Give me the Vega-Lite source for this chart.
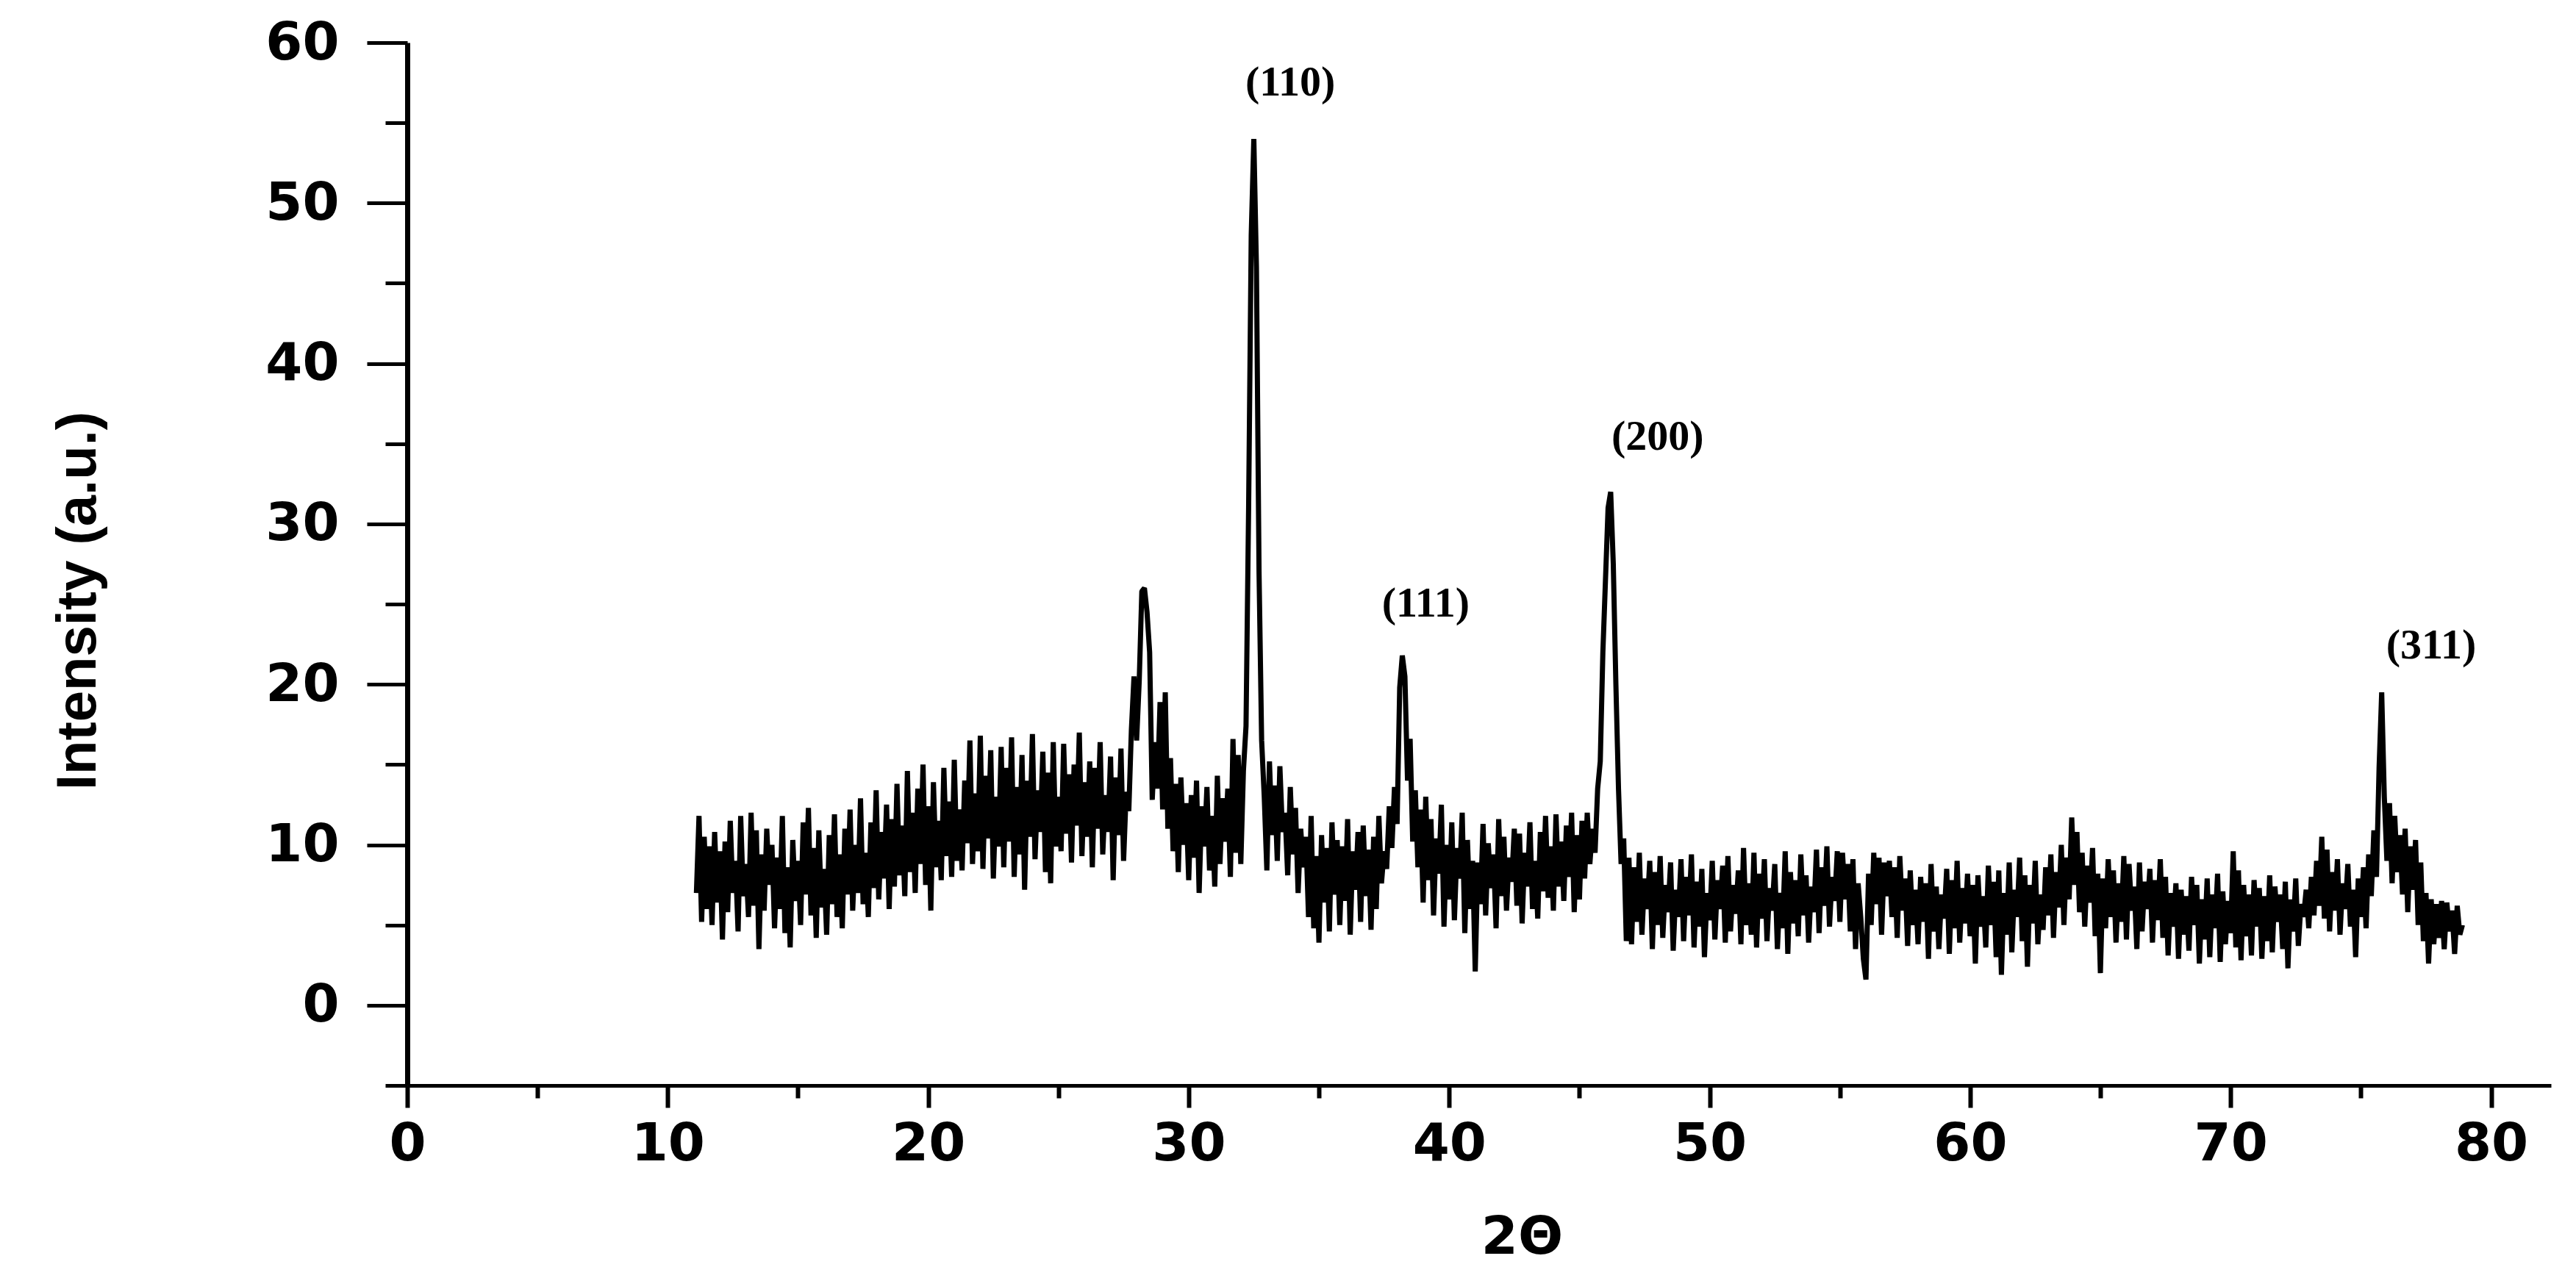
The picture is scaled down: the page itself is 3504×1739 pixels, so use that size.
{
  "$schema": "https://vega.github.io/schema/vega-lite/v6.json",
  "width": 2916,
  "height": 1419,
  "autosize": {"type": "none"},
  "padding": {"left": 554, "top": 58, "right": 34, "bottom": 262},
  "background": "white",
  "config": {"view": {"stroke": null}, "axis": {"grid": false, "domainColor": "black", "tickColor": "black", "labelColor": "black", "titleColor": "black"}},
  "resolve": {"axis": {"x": "independent", "y": "independent"}},
  "layer": [
    {
      "data": {"values": [
{"t":11.1,"i":7.0},{"t":11.2,"i":11.8},{"t":11.3,"i":5.2},{"t":11.4,"i":10.5},{"t":11.5,"i":6.0},{"t":11.6,"i":9.9},{"t":11.7,"i":5.0},{"t":11.8,"i":10.8},{"t":11.9,"i":6.4},
{"t":12.0,"i":9.6},{"t":12.1,"i":4.1},{"t":12.2,"i":10.2},{"t":12.3,"i":5.8},{"t":12.4,"i":11.5},{"t":12.5,"i":7.0},{"t":12.6,"i":9.0},{"t":12.7,"i":4.6},{"t":12.8,"i":11.8},{"t":12.9,"i":6.8},
{"t":13.0,"i":8.8},{"t":13.1,"i":5.5},{"t":13.2,"i":12.0},{"t":13.3,"i":6.2},{"t":13.4,"i":10.9},{"t":13.5,"i":3.5},{"t":13.6,"i":9.4},{"t":13.7,"i":5.9},{"t":13.8,"i":11.0},{"t":13.9,"i":7.5},
{"t":14.0,"i":10.0},{"t":14.1,"i":4.8},{"t":14.2,"i":9.2},{"t":14.3,"i":6.0},{"t":14.4,"i":11.8},{"t":14.5,"i":4.5},{"t":14.6,"i":8.6},{"t":14.7,"i":3.6},{"t":14.8,"i":10.3},{"t":14.9,"i":6.5},
{"t":15.0,"i":9.0},{"t":15.1,"i":5.0},{"t":15.2,"i":11.4},{"t":15.3,"i":6.9},{"t":15.4,"i":12.3},{"t":15.5,"i":5.6},{"t":15.6,"i":9.8},{"t":15.7,"i":4.2},{"t":15.8,"i":10.9},{"t":15.9,"i":6.1},
{"t":16.0,"i":8.5},{"t":16.1,"i":4.4},{"t":16.2,"i":10.6},{"t":16.3,"i":6.3},{"t":16.4,"i":11.9},{"t":16.5,"i":5.5},{"t":16.6,"i":9.4},{"t":16.7,"i":4.8},{"t":16.8,"i":11.0},{"t":16.9,"i":6.9},
{"t":17.0,"i":12.2},{"t":17.1,"i":5.9},{"t":17.2,"i":10.0},{"t":17.3,"i":7.0},{"t":17.4,"i":12.9},{"t":17.5,"i":6.3},{"t":17.6,"i":9.5},{"t":17.7,"i":5.5},{"t":17.8,"i":11.4},{"t":17.9,"i":7.3},
{"t":18.0,"i":13.4},{"t":18.1,"i":6.6},{"t":18.2,"i":10.8},{"t":18.3,"i":7.9},{"t":18.4,"i":12.5},{"t":18.5,"i":6.0},{"t":18.6,"i":11.6},{"t":18.7,"i":7.4},{"t":18.8,"i":13.8},{"t":18.9,"i":8.1},
{"t":19.0,"i":11.2},{"t":19.1,"i":6.8},{"t":19.2,"i":14.6},{"t":19.3,"i":8.3},{"t":19.4,"i":12.0},{"t":19.5,"i":7.0},{"t":19.6,"i":13.5},{"t":19.7,"i":8.8},{"t":19.8,"i":15.0},{"t":19.9,"i":7.5},
{"t":20.0,"i":12.4},{"t":20.1,"i":5.9},{"t":20.2,"i":13.9},{"t":20.3,"i":8.6},{"t":20.4,"i":11.5},{"t":20.5,"i":7.8},{"t":20.6,"i":14.8},{"t":20.7,"i":9.3},{"t":20.8,"i":12.7},{"t":20.9,"i":8.0},
{"t":21.0,"i":15.3},{"t":21.1,"i":9.0},{"t":21.2,"i":12.2},{"t":21.3,"i":8.4},{"t":21.4,"i":14.0},{"t":21.5,"i":10.1},{"t":21.6,"i":16.5},{"t":21.7,"i":8.8},{"t":21.8,"i":13.2},{"t":21.9,"i":9.6},
{"t":22.0,"i":16.8},{"t":22.1,"i":8.5},{"t":22.2,"i":14.3},{"t":22.3,"i":10.4},{"t":22.4,"i":15.9},{"t":22.5,"i":7.9},{"t":22.6,"i":13.0},{"t":22.7,"i":9.9},{"t":22.8,"i":16.1},{"t":22.9,"i":8.6},
{"t":23.0,"i":14.8},{"t":23.1,"i":10.2},{"t":23.2,"i":16.7},{"t":23.3,"i":8.0},{"t":23.4,"i":13.6},{"t":23.5,"i":9.4},{"t":23.6,"i":15.6},{"t":23.7,"i":7.2},{"t":23.8,"i":14.0},{"t":23.9,"i":10.5},
{"t":24.0,"i":16.9},{"t":24.1,"i":9.1},{"t":24.2,"i":13.4},{"t":24.3,"i":10.8},{"t":24.4,"i":15.8},{"t":24.5,"i":8.3},{"t":24.6,"i":14.5},{"t":24.7,"i":7.6},{"t":24.8,"i":16.4},{"t":24.9,"i":9.9},
{"t":25.0,"i":13.0},{"t":25.1,"i":9.6},{"t":25.2,"i":16.3},{"t":25.3,"i":10.7},{"t":25.4,"i":14.4},{"t":25.5,"i":8.9},{"t":25.6,"i":15.0},{"t":25.7,"i":11.2},{"t":25.8,"i":17.0},{"t":25.9,"i":9.3},
{"t":26.0,"i":13.9},{"t":26.1,"i":10.5},{"t":26.2,"i":15.2},{"t":26.3,"i":8.6},{"t":26.4,"i":14.8},{"t":26.5,"i":11.0},{"t":26.6,"i":16.4},{"t":26.7,"i":9.4},{"t":26.8,"i":13.1},{"t":26.9,"i":10.8},
{"t":27.0,"i":15.5},{"t":27.1,"i":7.8},{"t":27.2,"i":14.2},{"t":27.3,"i":10.6},{"t":27.4,"i":16.0},{"t":27.5,"i":9.0},{"t":27.6,"i":13.3},{"t":27.7,"i":12.1},{"t":27.8,"i":17.2},{"t":27.9,"i":20.5},
{"t":28.0,"i":16.5},{"t":28.1,"i":20.2},{"t":28.2,"i":25.8},{"t":28.3,"i":26.0},{"t":28.4,"i":24.5},{"t":28.5,"i":22.0},{"t":28.6,"i":12.8},{"t":28.7,"i":16.4},{"t":28.8,"i":13.5},{"t":28.9,"i":18.9},
{"t":29.0,"i":12.2},{"t":29.1,"i":19.5},{"t":29.2,"i":11.0},{"t":29.3,"i":15.4},{"t":29.4,"i":9.6},{"t":29.5,"i":13.8},{"t":29.6,"i":8.3},{"t":29.7,"i":14.2},{"t":29.8,"i":10.0},{"t":29.9,"i":12.6},
{"t":30.0,"i":7.8},{"t":30.1,"i":13.1},{"t":30.2,"i":9.2},{"t":30.3,"i":14.0},{"t":30.4,"i":7.0},{"t":30.5,"i":12.4},{"t":30.6,"i":9.9},{"t":30.7,"i":13.6},{"t":30.8,"i":8.4},{"t":30.9,"i":11.8},
{"t":31.0,"i":7.4},{"t":31.1,"i":14.3},{"t":31.2,"i":8.8},{"t":31.3,"i":12.9},{"t":31.4,"i":10.2},{"t":31.5,"i":13.5},{"t":31.6,"i":8.0},{"t":31.7,"i":16.6},{"t":31.8,"i":9.5},{"t":31.9,"i":15.6},
{"t":32.0,"i":8.8},{"t":32.1,"i":14.6},{"t":32.2,"i":17.4},{"t":32.3,"i":31.0},{"t":32.4,"i":48.0},{"t":32.5,"i":54.0},{"t":32.6,"i":46.0},{"t":32.7,"i":27.0},{"t":32.8,"i":16.5},{"t":32.9,"i":13.0},
{"t":33.0,"i":8.4},{"t":33.1,"i":15.2},{"t":33.2,"i":10.6},{"t":33.3,"i":13.7},{"t":33.4,"i":9.0},{"t":33.5,"i":14.9},{"t":33.6,"i":10.8},{"t":33.7,"i":12.0},{"t":33.8,"i":8.1},{"t":33.9,"i":13.6},
{"t":34.0,"i":9.4},{"t":34.1,"i":12.3},{"t":34.2,"i":7.0},{"t":34.3,"i":11.0},{"t":34.4,"i":8.6},{"t":34.5,"i":10.5},{"t":34.6,"i":5.5},{"t":34.7,"i":11.8},{"t":34.8,"i":4.8},{"t":34.9,"i":9.3},
{"t":35.0,"i":3.9},{"t":35.1,"i":10.6},{"t":35.2,"i":6.4},{"t":35.3,"i":9.8},{"t":35.4,"i":4.6},{"t":35.5,"i":11.4},{"t":35.6,"i":6.9},{"t":35.7,"i":10.3},{"t":35.8,"i":5.0},{"t":35.9,"i":9.9},
{"t":36.0,"i":6.5},{"t":36.1,"i":11.6},{"t":36.2,"i":4.4},{"t":36.3,"i":9.6},{"t":36.4,"i":7.2},{"t":36.5,"i":10.8},{"t":36.6,"i":5.2},{"t":36.7,"i":11.2},{"t":36.8,"i":6.8},{"t":36.9,"i":9.7},
{"t":37.0,"i":4.7},{"t":37.1,"i":10.5},{"t":37.2,"i":6.0},{"t":37.3,"i":11.8},{"t":37.4,"i":7.6},{"t":37.5,"i":9.6},{"t":37.6,"i":8.5},{"t":37.7,"i":12.4},{"t":37.8,"i":9.8},{"t":37.9,"i":13.6},
{"t":38.0,"i":11.3},{"t":38.1,"i":19.8},{"t":38.2,"i":21.8},{"t":38.3,"i":20.5},{"t":38.4,"i":14.0},{"t":38.5,"i":16.6},{"t":38.6,"i":10.2},{"t":38.7,"i":13.4},{"t":38.8,"i":8.6},{"t":38.9,"i":12.2},
{"t":39.0,"i":6.4},{"t":39.1,"i":13.0},{"t":39.2,"i":7.8},{"t":39.3,"i":11.6},{"t":39.4,"i":5.6},{"t":39.5,"i":10.4},{"t":39.6,"i":8.2},{"t":39.7,"i":12.5},{"t":39.8,"i":4.9},{"t":39.9,"i":10.0},
{"t":40.0,"i":6.6},{"t":40.1,"i":11.4},{"t":40.2,"i":5.3},{"t":40.3,"i":9.8},{"t":40.4,"i":7.9},{"t":40.5,"i":12.0},{"t":40.6,"i":4.5},{"t":40.7,"i":10.3},{"t":40.8,"i":6.0},{"t":40.9,"i":9.0},
{"t":41.0,"i":2.1},{"t":41.1,"i":8.9},{"t":41.2,"i":6.3},{"t":41.3,"i":11.3},{"t":41.4,"i":5.6},{"t":41.5,"i":10.1},{"t":41.6,"i":7.3},{"t":41.7,"i":9.4},{"t":41.8,"i":4.8},{"t":41.9,"i":11.6},
{"t":42.0,"i":6.8},{"t":42.1,"i":10.5},{"t":42.2,"i":5.9},{"t":42.3,"i":9.2},{"t":42.4,"i":7.7},{"t":42.5,"i":11.0},{"t":42.6,"i":6.2},{"t":42.7,"i":10.7},{"t":42.8,"i":5.1},{"t":42.9,"i":9.5},
{"t":43.0,"i":7.4},{"t":43.1,"i":11.4},{"t":43.2,"i":6.0},{"t":43.3,"i":9.0},{"t":43.4,"i":5.4},{"t":43.5,"i":10.8},{"t":43.6,"i":7.1},{"t":43.7,"i":11.8},{"t":43.8,"i":6.7},{"t":43.9,"i":9.9},
{"t":44.0,"i":5.9},{"t":44.1,"i":11.9},{"t":44.2,"i":7.4},{"t":44.3,"i":10.2},{"t":44.4,"i":6.5},{"t":44.5,"i":11.2},{"t":44.6,"i":8.0},{"t":44.7,"i":12.0},{"t":44.8,"i":5.8},{"t":44.9,"i":10.6},
{"t":45.0,"i":6.6},{"t":45.1,"i":11.5},{"t":45.2,"i":7.9},{"t":45.3,"i":12.0},{"t":45.4,"i":8.8},{"t":45.5,"i":11.0},{"t":45.6,"i":9.5},{"t":45.7,"i":13.5},{"t":45.8,"i":15.2},{"t":45.9,"i":22.0},
{"t":46.0,"i":26.5},{"t":46.1,"i":31.0},{"t":46.2,"i":32.0},{"t":46.3,"i":27.5},{"t":46.4,"i":20.0},{"t":46.5,"i":13.5},{"t":46.6,"i":8.8},{"t":46.7,"i":10.4},{"t":46.8,"i":4.0},{"t":46.9,"i":9.2},
{"t":47.0,"i":3.8},{"t":47.1,"i":8.6},{"t":47.2,"i":5.2},{"t":47.3,"i":9.5},{"t":47.4,"i":4.4},{"t":47.5,"i":7.9},{"t":47.6,"i":6.0},{"t":47.7,"i":9.0},{"t":47.8,"i":3.5},{"t":47.9,"i":8.3},
{"t":48.0,"i":5.0},{"t":48.1,"i":9.3},{"t":48.2,"i":4.2},{"t":48.3,"i":7.5},{"t":48.4,"i":5.8},{"t":48.5,"i":8.9},{"t":48.6,"i":3.4},{"t":48.7,"i":7.2},{"t":48.8,"i":5.5},{"t":48.9,"i":9.1},
{"t":49.0,"i":4.0},{"t":49.1,"i":8.0},{"t":49.2,"i":5.6},{"t":49.3,"i":9.4},{"t":49.4,"i":3.6},{"t":49.5,"i":7.7},{"t":49.6,"i":4.9},{"t":49.7,"i":8.5},{"t":49.8,"i":3.0},{"t":49.9,"i":7.0},
{"t":50.0,"i":5.3},{"t":50.1,"i":9.0},{"t":50.2,"i":4.1},{"t":50.3,"i":7.8},{"t":50.4,"i":6.0},{"t":50.5,"i":8.7},{"t":50.6,"i":3.9},{"t":50.7,"i":9.3},{"t":50.8,"i":4.6},{"t":50.9,"i":7.5},
{"t":51.0,"i":5.7},{"t":51.1,"i":8.4},{"t":51.2,"i":3.8},{"t":51.3,"i":9.8},{"t":51.4,"i":5.0},{"t":51.5,"i":7.6},{"t":51.6,"i":4.4},{"t":51.7,"i":9.5},{"t":51.8,"i":3.6},{"t":51.9,"i":8.2},
{"t":52.0,"i":5.4},{"t":52.1,"i":9.1},{"t":52.2,"i":4.0},{"t":52.3,"i":7.3},{"t":52.4,"i":5.9},{"t":52.5,"i":8.8},{"t":52.6,"i":3.5},{"t":52.7,"i":7.0},{"t":52.8,"i":4.8},{"t":52.9,"i":9.6},
{"t":53.0,"i":3.2},{"t":53.1,"i":8.3},{"t":53.2,"i":5.1},{"t":53.3,"i":7.8},{"t":53.4,"i":4.3},{"t":53.5,"i":9.4},{"t":53.6,"i":5.6},{"t":53.7,"i":8.1},{"t":53.8,"i":3.9},{"t":53.9,"i":7.4},
{"t":54.0,"i":5.8},{"t":54.1,"i":9.7},{"t":54.2,"i":4.5},{"t":54.3,"i":8.6},{"t":54.4,"i":6.2},{"t":54.5,"i":9.9},{"t":54.6,"i":4.9},{"t":54.7,"i":8.0},{"t":54.8,"i":6.5},{"t":54.9,"i":9.6},
{"t":55.0,"i":5.2},{"t":55.1,"i":9.5},{"t":55.2,"i":6.6},{"t":55.3,"i":8.8},{"t":55.4,"i":4.6},{"t":55.5,"i":9.1},{"t":55.6,"i":3.5},{"t":55.7,"i":7.6},{"t":55.8,"i":5.5},{"t":55.9,"i":2.9},
{"t":56.0,"i":1.6},{"t":56.1,"i":8.2},{"t":56.2,"i":5.0},{"t":56.3,"i":9.5},{"t":56.4,"i":6.3},{"t":56.5,"i":9.2},{"t":56.6,"i":4.4},{"t":56.7,"i":8.9},{"t":56.8,"i":6.8},{"t":56.9,"i":9.0},
{"t":57.0,"i":5.5},{"t":57.1,"i":8.6},{"t":57.2,"i":4.2},{"t":57.3,"i":9.3},{"t":57.4,"i":5.9},{"t":57.5,"i":7.9},{"t":57.6,"i":3.7},{"t":57.7,"i":8.4},{"t":57.8,"i":5.0},{"t":57.9,"i":7.2},
{"t":58.0,"i":3.8},{"t":58.1,"i":8.0},{"t":58.2,"i":5.2},{"t":58.3,"i":7.6},{"t":58.4,"i":2.9},{"t":58.5,"i":8.8},{"t":58.6,"i":4.6},{"t":58.7,"i":7.4},{"t":58.8,"i":3.5},{"t":58.9,"i":6.9},
{"t":59.0,"i":5.4},{"t":59.1,"i":8.5},{"t":59.2,"i":3.2},{"t":59.3,"i":7.8},{"t":59.4,"i":4.8},{"t":59.5,"i":9.0},{"t":59.6,"i":3.9},{"t":59.7,"i":7.3},{"t":59.8,"i":5.1},{"t":59.9,"i":8.2},
{"t":60.0,"i":4.3},{"t":60.1,"i":7.5},{"t":60.2,"i":2.6},{"t":60.3,"i":8.1},{"t":60.4,"i":4.9},{"t":60.5,"i":6.8},{"t":60.6,"i":3.6},{"t":60.7,"i":8.7},{"t":60.8,"i":5.0},{"t":60.9,"i":7.7},
{"t":61.0,"i":3.0},{"t":61.1,"i":8.4},{"t":61.2,"i":1.9},{"t":61.3,"i":7.0},{"t":61.4,"i":4.4},{"t":61.5,"i":8.9},{"t":61.6,"i":3.3},{"t":61.7,"i":7.2},{"t":61.8,"i":5.5},{"t":61.9,"i":9.2},
{"t":62.0,"i":4.0},{"t":62.1,"i":8.1},{"t":62.2,"i":2.4},{"t":62.3,"i":7.5},{"t":62.4,"i":5.1},{"t":62.5,"i":9.0},{"t":62.6,"i":3.8},{"t":62.7,"i":6.9},{"t":62.8,"i":4.7},{"t":62.9,"i":8.6},
{"t":63.0,"i":5.6},{"t":63.1,"i":9.4},{"t":63.2,"i":4.2},{"t":63.3,"i":8.3},{"t":63.4,"i":6.1},{"t":63.5,"i":10.0},{"t":63.6,"i":5.0},{"t":63.7,"i":9.2},{"t":63.8,"i":6.6},{"t":63.9,"i":11.7},
{"t":64.0,"i":7.5},{"t":64.1,"i":10.8},{"t":64.2,"i":5.8},{"t":64.3,"i":9.5},{"t":64.4,"i":4.9},{"t":64.5,"i":8.7},{"t":64.6,"i":6.4},{"t":64.7,"i":9.8},{"t":64.8,"i":4.3},{"t":64.9,"i":8.2},
{"t":65.0,"i":2.0},{"t":65.1,"i":7.9},{"t":65.2,"i":4.8},{"t":65.3,"i":9.1},{"t":65.4,"i":5.5},{"t":65.5,"i":8.4},{"t":65.6,"i":3.9},{"t":65.7,"i":7.6},{"t":65.8,"i":5.2},{"t":65.9,"i":9.3},
{"t":66.0,"i":4.1},{"t":66.1,"i":8.8},{"t":66.2,"i":5.9},{"t":66.3,"i":7.4},{"t":66.4,"i":3.5},{"t":66.5,"i":8.9},{"t":66.6,"i":4.6},{"t":66.7,"i":7.7},{"t":66.8,"i":6.0},{"t":66.9,"i":8.5},
{"t":67.0,"i":3.9},{"t":67.1,"i":7.8},{"t":67.2,"i":5.3},{"t":67.3,"i":9.1},{"t":67.4,"i":4.2},{"t":67.5,"i":8.0},{"t":67.6,"i":3.1},{"t":67.7,"i":7.0},{"t":67.8,"i":4.9},{"t":67.9,"i":7.6},
{"t":68.0,"i":2.9},{"t":68.1,"i":7.2},{"t":68.2,"i":4.4},{"t":68.3,"i":6.8},{"t":68.4,"i":3.4},{"t":68.5,"i":8.0},{"t":68.6,"i":5.0},{"t":68.7,"i":7.5},{"t":68.8,"i":2.6},{"t":68.9,"i":6.6},
{"t":69.0,"i":4.1},{"t":69.1,"i":7.9},{"t":69.2,"i":3.0},{"t":69.3,"i":6.9},{"t":69.4,"i":4.8},{"t":69.5,"i":8.2},{"t":69.6,"i":2.7},{"t":69.7,"i":7.1},{"t":69.8,"i":3.8},{"t":69.9,"i":6.5},
{"t":70.0,"i":4.5},{"t":70.1,"i":9.6},{"t":70.2,"i":3.6},{"t":70.3,"i":8.4},{"t":70.4,"i":2.8},{"t":70.5,"i":7.5},{"t":70.6,"i":4.3},{"t":70.7,"i":6.9},{"t":70.8,"i":3.1},{"t":70.9,"i":7.8},
{"t":71.0,"i":4.9},{"t":71.1,"i":7.3},{"t":71.2,"i":2.9},{"t":71.3,"i":6.8},{"t":71.4,"i":4.0},{"t":71.5,"i":8.1},{"t":71.6,"i":3.3},{"t":71.7,"i":7.4},{"t":71.8,"i":5.2},{"t":71.9,"i":6.9},
{"t":72.0,"i":3.5},{"t":72.1,"i":7.7},{"t":72.2,"i":2.3},{"t":72.3,"i":6.6},{"t":72.4,"i":4.6},{"t":72.5,"i":7.9},{"t":72.6,"i":3.7},{"t":72.7,"i":6.3},{"t":72.8,"i":5.5},{"t":72.9,"i":7.2},
{"t":73.0,"i":4.8},{"t":73.1,"i":8.0},{"t":73.2,"i":5.6},{"t":73.3,"i":9.0},{"t":73.4,"i":6.2},{"t":73.5,"i":10.5},{"t":73.6,"i":5.4},{"t":73.7,"i":9.7},{"t":73.8,"i":4.6},{"t":73.9,"i":8.3},
{"t":74.0,"i":5.9},{"t":74.1,"i":9.1},{"t":74.2,"i":4.4},{"t":74.3,"i":7.6},{"t":74.4,"i":6.0},{"t":74.5,"i":8.8},{"t":74.6,"i":4.9},{"t":74.7,"i":7.2},{"t":74.8,"i":3.0},{"t":74.9,"i":7.9},
{"t":75.0,"i":5.5},{"t":75.1,"i":8.6},{"t":75.2,"i":4.8},{"t":75.3,"i":9.4},{"t":75.4,"i":6.8},{"t":75.5,"i":10.9},{"t":75.6,"i":8.0},{"t":75.7,"i":14.8},{"t":75.8,"i":19.5},{"t":75.9,"i":13.0},
{"t":76.0,"i":9.0},{"t":76.1,"i":12.6},{"t":76.2,"i":7.6},{"t":76.3,"i":11.8},{"t":76.4,"i":8.3},{"t":76.5,"i":10.6},{"t":76.6,"i":6.9},{"t":76.7,"i":11.0},{"t":76.8,"i":5.8},{"t":76.9,"i":9.9},
{"t":77.0,"i":7.2},{"t":77.1,"i":10.3},{"t":77.2,"i":5.0},{"t":77.3,"i":8.9},{"t":77.4,"i":4.0},{"t":77.5,"i":7.0},{"t":77.6,"i":2.6},{"t":77.7,"i":6.6},{"t":77.8,"i":3.8},{"t":77.9,"i":6.3},
{"t":78.0,"i":4.2},{"t":78.1,"i":6.5},{"t":78.2,"i":3.5},{"t":78.3,"i":6.4},{"t":78.4,"i":4.6},{"t":78.5,"i":5.9},{"t":78.6,"i":3.2},{"t":78.7,"i":6.2},{"t":78.8,"i":4.4},{"t":78.9,"i":5.0}
      ]},
      "mark": {"type": "line", "color": "black", "strokeWidth": 7, "strokeJoin": "bevel"},
      "encoding": {
        "x": {"field": "t", "type": "quantitative",
          "scale": {"domain": [0, 82.3], "nice": false, "zero": false},
          "axis": {"orient": "bottom", "values": [0, 10, 20, 30, 40, 50, 60, 70, 80], "tickSize": 30, "tickWidth": 6, "domainWidth": 5,
            "labelFont": "DejaVu Sans", "labelFontWeight": "bold", "labelFontSize": 72, "labelPadding": 14, "labelFlush": false, "labelOverlap": false,
            "title": "2Θ", "titleFont": "DejaVu Sans", "titleFontWeight": "bold", "titleFontSize": 72,
            "titleX": 1516, "titleY": 228, "titleBaseline": "alphabetic", "titleAlign": "center"}},
        "y": {"field": "i", "type": "quantitative",
          "scale": {"domain": [-5, 60], "nice": false, "zero": false},
          "axis": {"orient": "left", "values": [0, 10, 20, 30, 40, 50, 60], "tickSize": 55, "tickWidth": 5, "domainWidth": 7,
            "labelFont": "DejaVu Sans", "labelFontWeight": "bold", "labelFontSize": 72, "labelPadding": 38, "labelFlush": false, "labelOverlap": false,
            "title": "Intensity (a.u.)", "titleFont": "Liberation Sans", "titleFontWeight": "bold", "titleFontSize": 76,
            "titleAngle": -90, "titleX": -425, "titleY": 759, "titleBaseline": "alphabetic", "titleAlign": "center"}}
      }
    },
    {
      "data": {"values": [
        {"t": 33.9, "i": 57.5, "hkl": "(110)"},
        {"t": 39.1, "i": 25.0, "hkl": "(111)"},
        {"t": 48.0, "i": 35.4, "hkl": "(200)"},
        {"t": 77.7, "i": 22.4, "hkl": "(311)"}
      ]},
      "mark": {"type": "text", "font": "Liberation Serif", "fontWeight": "bold", "fontSize": 58, "color": "black", "baseline": "middle", "align": "center"},
      "encoding": {
        "x": {"field": "t", "type": "quantitative",
          "scale": {"domain": [0, 82.3], "nice": false, "zero": false},
          "axis": {"orient": "bottom", "values": [5, 15, 25, 35, 45, 55, 65, 75], "tickSize": 17, "tickWidth": 6, "domain": false, "labels": false, "title": null}},
        "y": {"field": "i", "type": "quantitative",
          "scale": {"domain": [-5, 60], "nice": false, "zero": false},
          "axis": {"orient": "left", "values": [-5, 5, 15, 25, 35, 45, 55], "tickSize": 30, "tickWidth": 5, "domain": false, "labels": false, "title": null}},
        "text": {"field": "hkl", "type": "nominal"}
      }
    }
  ]
}
